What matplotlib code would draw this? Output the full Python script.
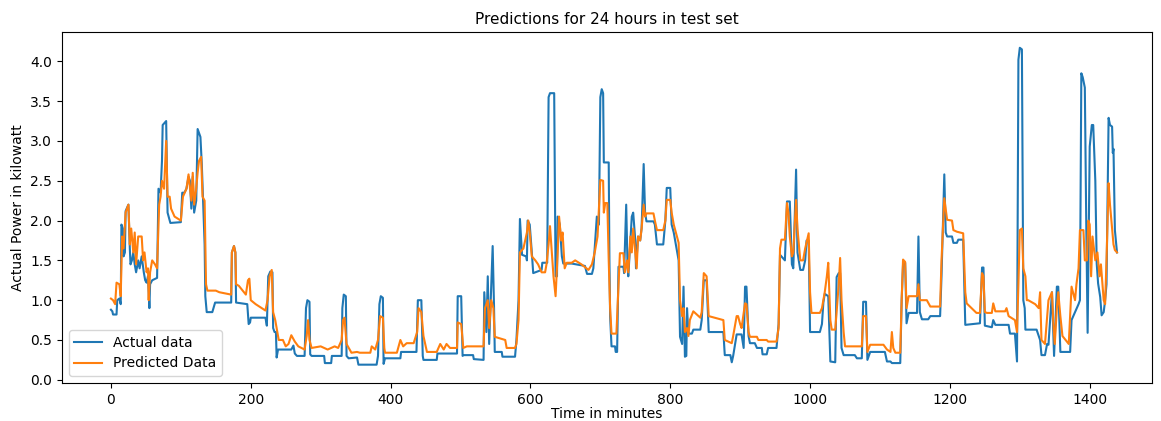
import numpy as np
import matplotlib
matplotlib.use("Agg")
from matplotlib import pyplot as plt

# minute marks and values (kilowatt)
actual_t = [0, 2, 3, 8, 9, 12, 14, 15, 17, 18, 20, 21, 25, 27, 28, 30, 32, 34, 36, 39,
            41, 44, 47, 49, 51, 53, 55, 56, 59, 66, 68, 71, 73, 74, 79, 81, 85, 100, 102, 105,
            108, 111, 113, 115, 117, 119, 122, 124, 128, 130, 132, 134, 135, 137, 145, 149, 172, 173, 176, 178,
            179, 195, 197, 199, 200, 221, 223, 225, 228, 231, 232, 234, 236, 237, 239, 258, 261, 263, 266, 277,
            279, 281, 284, 285, 287, 305, 306, 315, 316, 330, 331, 333, 336, 337, 340, 352, 354, 380, 382, 384,
            386, 389, 390, 392, 414, 415, 437, 439, 444, 446, 447, 466, 467, 495, 496, 501, 503, 504, 518, 519,
            533, 534, 537, 539, 541, 544, 546, 548, 549, 559, 560, 578, 580, 583, 585, 588, 594, 595, 596, 599,
            602, 604, 616, 617, 624, 626, 628, 634, 636, 638, 639, 642, 645, 647, 659, 678, 681, 688, 690, 695,
            698, 700, 702, 704, 705, 712, 713, 714, 716, 721, 722, 724, 726, 733, 734, 737, 739, 740, 745, 747,
            750, 751, 754, 757, 759, 762, 764, 766, 776, 778, 781, 790, 793, 795, 800, 802, 805, 809, 812, 814,
            817, 819, 821, 823, 824, 826, 831, 833, 843, 845, 848, 852, 855, 876, 878, 886, 888, 890, 895, 902,
            905, 907, 909, 912, 914, 921, 924, 931, 932, 938, 940, 952, 955, 957, 964, 967, 971, 974, 976, 980,
            982, 986, 990, 993, 995, 998, 1000, 1014, 1017, 1019, 1021, 1026, 1029, 1036, 1038, 1041, 1043, 1045, 1048, 1064,
            1067, 1074, 1076, 1080, 1082, 1086, 1107, 1110, 1115, 1117, 1129, 1131, 1133, 1136, 1138, 1141, 1153, 1155, 1157, 1160,
            1169, 1172, 1186, 1188, 1192, 1194, 1196, 1203, 1205, 1210, 1212, 1219, 1222, 1243, 1246, 1248, 1250, 1260, 1262, 1265,
            1284, 1286, 1293, 1296, 1298, 1300, 1303, 1305, 1307, 1308, 1324, 1327, 1329, 1331, 1336, 1339, 1341, 1346, 1349, 1353,
            1355, 1358, 1361, 1372, 1374, 1379, 1384, 1386, 1388, 1390, 1393, 1395, 1397, 1400, 1403, 1405, 1408, 1410, 1412, 1415,
            1417, 1420, 1422, 1424, 1427, 1429, 1432, 1433, 1434, 1436, 1439]
actual_kw = [0.88, 0.86, 0.82, 0.82, 1.0, 1.02, 0.95, 1.95, 1.9, 1.55, 1.6, 2.12, 2.2, 1.65, 1.45, 1.5, 1.6, 1.45, 1.35, 1.5,
             1.4, 1.55, 1.35, 1.25, 1.22, 1.3, 0.9, 1.2, 1.25, 1.28, 2.4, 2.35, 2.75, 3.2, 3.25, 2.1, 1.97, 1.98, 2.35, 2.35,
             2.4, 2.55, 2.5, 2.15, 2.55, 2.1, 2.25, 3.15, 3.05, 2.7, 2.2, 1.7, 1.05, 0.85, 0.85, 0.97, 0.97, 1.6, 1.68, 1.6,
             0.97, 0.95, 0.7, 0.72, 0.78, 0.78, 0.68, 1.3, 1.36, 1.35, 0.65, 0.6, 0.6, 0.28, 0.38, 0.38, 0.43, 0.33, 0.3, 0.3,
             0.9, 1.0, 0.98, 0.32, 0.3, 0.3, 0.21, 0.21, 0.3, 0.3, 0.9, 1.07, 1.05, 0.3, 0.27, 0.28, 0.19, 0.19, 0.3, 0.95,
             1.05, 1.03, 0.2, 0.27, 0.27, 0.35, 0.35, 1.0, 1.0, 0.3, 0.25, 0.25, 0.33, 0.33, 1.05, 1.05, 0.3, 0.31, 0.31, 0.26,
             0.25, 1.1, 0.6, 1.3, 0.45, 1.2, 1.68, 0.9, 0.35, 0.35, 0.29, 0.29, 0.5, 1.0, 2.02, 1.57, 1.55, 1.5, 2.0, 1.95,
             1.6, 1.34, 1.38, 1.47, 1.47, 3.55, 3.6, 3.6, 1.3, 1.3, 2.05, 1.95, 1.55, 1.46, 1.46, 1.43, 1.33, 1.33, 1.4, 2.05,
             1.95, 3.55, 3.65, 3.6, 2.73, 2.73, 1.5, 0.8, 0.42, 0.42, 0.35, 0.35, 1.42, 1.42, 1.34, 2.2, 1.4, 1.3, 2.05, 2.1,
             1.75, 1.4, 1.8, 1.75, 1.9, 2.71, 2.1, 1.99, 1.99, 1.95, 1.7, 1.7, 2.0, 2.41, 2.41, 1.95, 1.85, 1.65, 1.5, 0.54,
             0.45, 1.17, 0.29, 0.3, 0.9, 0.58, 0.58, 0.63, 0.63, 0.75, 1.25, 1.25, 0.6, 0.6, 0.31, 0.31, 0.22, 0.3, 0.57, 0.57,
             0.4, 1.17, 1.17, 0.55, 0.46, 0.46, 0.4, 0.4, 0.32, 0.32, 0.4, 0.4, 0.7, 1.57, 1.5, 2.24, 2.24, 1.45, 1.4, 2.64,
             1.6, 1.38, 1.38, 1.5, 1.75, 1.75, 0.6, 0.6, 0.7, 0.97, 1.08, 1.05, 0.23, 0.22, 1.29, 1.34, 1.34, 0.4, 0.31, 0.31,
             0.27, 0.27, 0.98, 0.98, 0.25, 0.35, 0.35, 0.23, 0.23, 0.21, 0.21, 1.0, 1.45, 1.47, 0.71, 0.84, 0.84, 1.8, 0.85, 0.76,
             0.76, 0.8, 0.8, 1.3, 2.58, 1.85, 1.8, 1.8, 1.72, 1.72, 1.76, 1.76, 0.69, 0.71, 1.41, 1.41, 0.68, 0.66, 0.75, 0.69,
             0.69, 0.58, 0.58, 0.23, 4.02, 4.17, 4.15, 1.0, 0.9, 0.63, 0.63, 0.55, 0.5, 0.31, 0.31, 0.45, 0.44, 1.1, 0.3, 1.17,
             1.17, 0.35, 0.35, 0.35, 0.75, 0.85, 0.95, 1.0, 3.85, 3.8, 3.67, 2.0, 0.59, 2.93, 3.2, 3.2, 2.5, 1.46, 1.21, 1.04,
             0.81, 0.85, 1.0, 1.2, 3.29, 3.2, 3.18, 2.85, 2.9, 1.88, 1.6]

pred_t = [0, 3, 6, 8, 12, 14, 16, 18, 21, 25, 27, 29, 32, 34, 36, 39, 44, 46, 48, 51,
          53, 54, 56, 59, 63, 66, 69, 71, 73, 76, 79, 81, 84, 86, 91, 100, 103, 108, 111, 115,
          117, 119, 122, 124, 126, 129, 131, 134, 136, 138, 150, 155, 172, 173, 176, 178, 179, 183, 193, 196,
          198, 200, 207, 221, 224, 227, 230, 232, 235, 240, 246, 250, 254, 258, 263, 268, 277, 280, 282, 284,
          287, 300, 310, 320, 325, 330, 332, 334, 337, 344, 352, 356, 371, 373, 378, 382, 385, 389, 391, 392,
          409, 414, 418, 423, 433, 438, 440, 444, 447, 452, 466, 471, 476, 480, 485, 495, 496, 501, 504, 509,
          533, 535, 539, 541, 544, 547, 549, 564, 566, 578, 580, 583, 585, 588, 590, 595, 597, 599, 602, 607,
          611, 616, 621, 623, 626, 628, 633, 636, 639, 641, 644, 646, 649, 652, 659, 664, 673, 683, 688, 692,
          696, 700, 704, 705, 707, 710, 712, 714, 716, 723, 726, 728, 733, 735, 738, 740, 743, 745, 747, 750,
          752, 754, 757, 759, 762, 764, 766, 776, 778, 781, 790, 793, 795, 800, 802, 805, 812, 814, 817, 819,
          821, 824, 826, 828, 833, 843, 845, 848, 852, 855, 876, 878, 888, 890, 895, 897, 900, 902, 907, 909,
          912, 914, 924, 926, 938, 940, 952, 955, 957, 959, 964, 967, 969, 971, 974, 976, 980, 982, 986, 990,
          993, 998, 1000, 1002, 1014, 1017, 1021, 1024, 1026, 1029, 1031, 1036, 1041, 1043, 1045, 1048, 1050, 1074, 1076, 1080,
          1082, 1086, 1105, 1110, 1115, 1117, 1119, 1122, 1129, 1131, 1133, 1136, 1138, 1141, 1153, 1155, 1157, 1167, 1172, 1186,
          1188, 1192, 1196, 1203, 1205, 1210, 1219, 1222, 1224, 1238, 1243, 1246, 1248, 1250, 1253, 1260, 1262, 1265, 1279, 1281,
          1284, 1293, 1296, 1298, 1300, 1303, 1305, 1308, 1310, 1312, 1322, 1327, 1329, 1331, 1336, 1341, 1346, 1348, 1350, 1353,
          1355, 1358, 1361, 1370, 1372, 1374, 1379, 1381, 1384, 1386, 1391, 1393, 1396, 1398, 1400, 1402, 1404, 1408, 1411, 1414,
          1416, 1420, 1422, 1424, 1427, 1429, 1432, 1434, 1436, 1439]
pred_kw = [1.02, 1.0, 0.95, 1.22, 1.2, 1.05, 1.8, 1.65, 2.1, 2.2, 1.7, 1.9, 1.6, 1.85, 1.45, 1.8, 1.8, 1.5, 1.6, 1.35,
           1.4, 1.0, 1.35, 1.5, 1.45, 1.4, 2.2, 2.3, 2.5, 2.4, 3.0, 2.3, 2.3, 2.15, 2.05, 2.0, 2.3, 2.4, 2.58, 2.25,
           2.6, 2.2, 2.4, 2.6, 2.75, 2.8, 2.3, 2.25, 1.2, 1.12, 1.12, 1.1, 1.07, 1.6, 1.68, 1.6, 1.2, 1.18, 1.07, 1.25,
           1.27, 1.0, 0.95, 0.87, 1.0, 1.3, 1.38, 0.85, 0.75, 0.5, 0.5, 0.42, 0.45, 0.56, 0.48, 0.42, 0.38, 0.55, 0.75, 0.5,
           0.4, 0.42, 0.38, 0.42, 0.4, 0.5, 0.75, 0.78, 0.45, 0.34, 0.35, 0.34, 0.34, 0.42, 0.38, 0.5, 0.8, 0.78, 0.4, 0.34,
           0.34, 0.5, 0.42, 0.46, 0.46, 0.6, 0.9, 0.85, 0.55, 0.35, 0.35, 0.45, 0.38, 0.45, 0.4, 0.4, 0.72, 0.7, 0.4, 0.42,
           0.42, 0.9, 1.0, 0.65, 1.0, 0.9, 0.54, 0.5, 0.4, 0.4, 0.45, 0.75, 1.6, 1.63, 1.65, 1.85, 2.0, 1.85, 1.55, 1.5,
           1.45, 1.35, 1.35, 1.45, 1.7, 1.93, 1.3, 1.05, 1.6, 2.05, 1.75, 1.85, 1.4, 1.47, 1.47, 1.5, 1.45, 1.38, 1.45, 1.6,
           1.8, 2.51, 2.5, 2.1, 2.22, 2.22, 1.5, 0.9, 0.58, 0.58, 1.2, 1.59, 1.59, 1.35, 1.5, 1.35, 1.8, 1.6, 1.9, 1.6,
           1.4, 1.8, 1.75, 1.9, 2.2, 2.05, 2.09, 2.09, 2.0, 1.88, 1.88, 2.0, 2.26, 2.26, 2.1, 1.95, 1.72, 1.0, 0.8, 0.9,
           0.6, 0.65, 0.55, 0.75, 0.86, 0.78, 0.85, 1.34, 1.3, 0.8, 0.75, 0.5, 0.46, 0.55, 0.8, 0.8, 0.7, 0.65, 0.96, 0.95,
           0.6, 0.54, 0.54, 0.5, 0.5, 0.48, 0.48, 0.65, 1.65, 1.76, 1.76, 2.22, 2.1, 1.8, 1.55, 1.6, 2.26, 1.9, 1.5, 1.5,
           1.65, 1.84, 1.1, 0.84, 0.84, 0.9, 1.1, 1.3, 1.47, 0.75, 0.63, 0.63, 1.2, 1.53, 1.0, 0.6, 0.42, 0.42, 0.8, 0.8,
           0.35, 0.44, 0.44, 0.38, 0.35, 0.6, 0.4, 0.34, 0.34, 1.0, 1.51, 1.48, 0.9, 1.05, 1.05, 1.2, 1.0, 1.0, 0.92, 0.92,
           1.5, 2.28, 2.01, 2.0, 1.88, 1.86, 1.84, 1.1, 0.96, 0.84, 0.84, 1.34, 1.3, 0.85, 0.84, 0.84, 0.96, 0.86, 0.86, 0.9,
           0.8, 0.75, 0.6, 1.2, 1.88, 1.9, 1.4, 1.3, 1.0, 1.0, 0.95, 0.9, 1.1, 0.5, 0.45, 1.0, 1.1, 0.7, 0.45, 0.9,
           1.1, 0.8, 0.55, 0.45, 0.8, 1.17, 1.0, 1.2, 1.4, 1.88, 1.88, 1.5, 1.5, 2.0, 1.95, 1.3, 1.8, 1.5, 1.6, 1.3,
           1.45, 1.0, 0.95, 1.5, 2.47, 2.2, 1.9, 1.7, 1.63, 1.6]

fig = plt.figure(figsize=(11.61, 4.21), dpi=100)
ax = fig.add_axes([0.0534, 0.0903, 0.9388, 0.834])

ax.plot(actual_t, actual_kw, label="Actual data")
ax.plot(pred_t, pred_kw, label="Predicted Data")

ax.set_xlim(-70, 1489)
ax.set_ylim(-0.04, 4.37)
ax.set_xticks(np.arange(0, 1401, 200))
ax.set_title("Predictions for 24 hours in test set", fontsize=11)
ax.set_xlabel("Time in minutes", labelpad=0)
ax.set_ylabel("Actual Power in kilowatt")
ax.legend(loc="lower left")

fig.savefig("out.png", dpi=100)
